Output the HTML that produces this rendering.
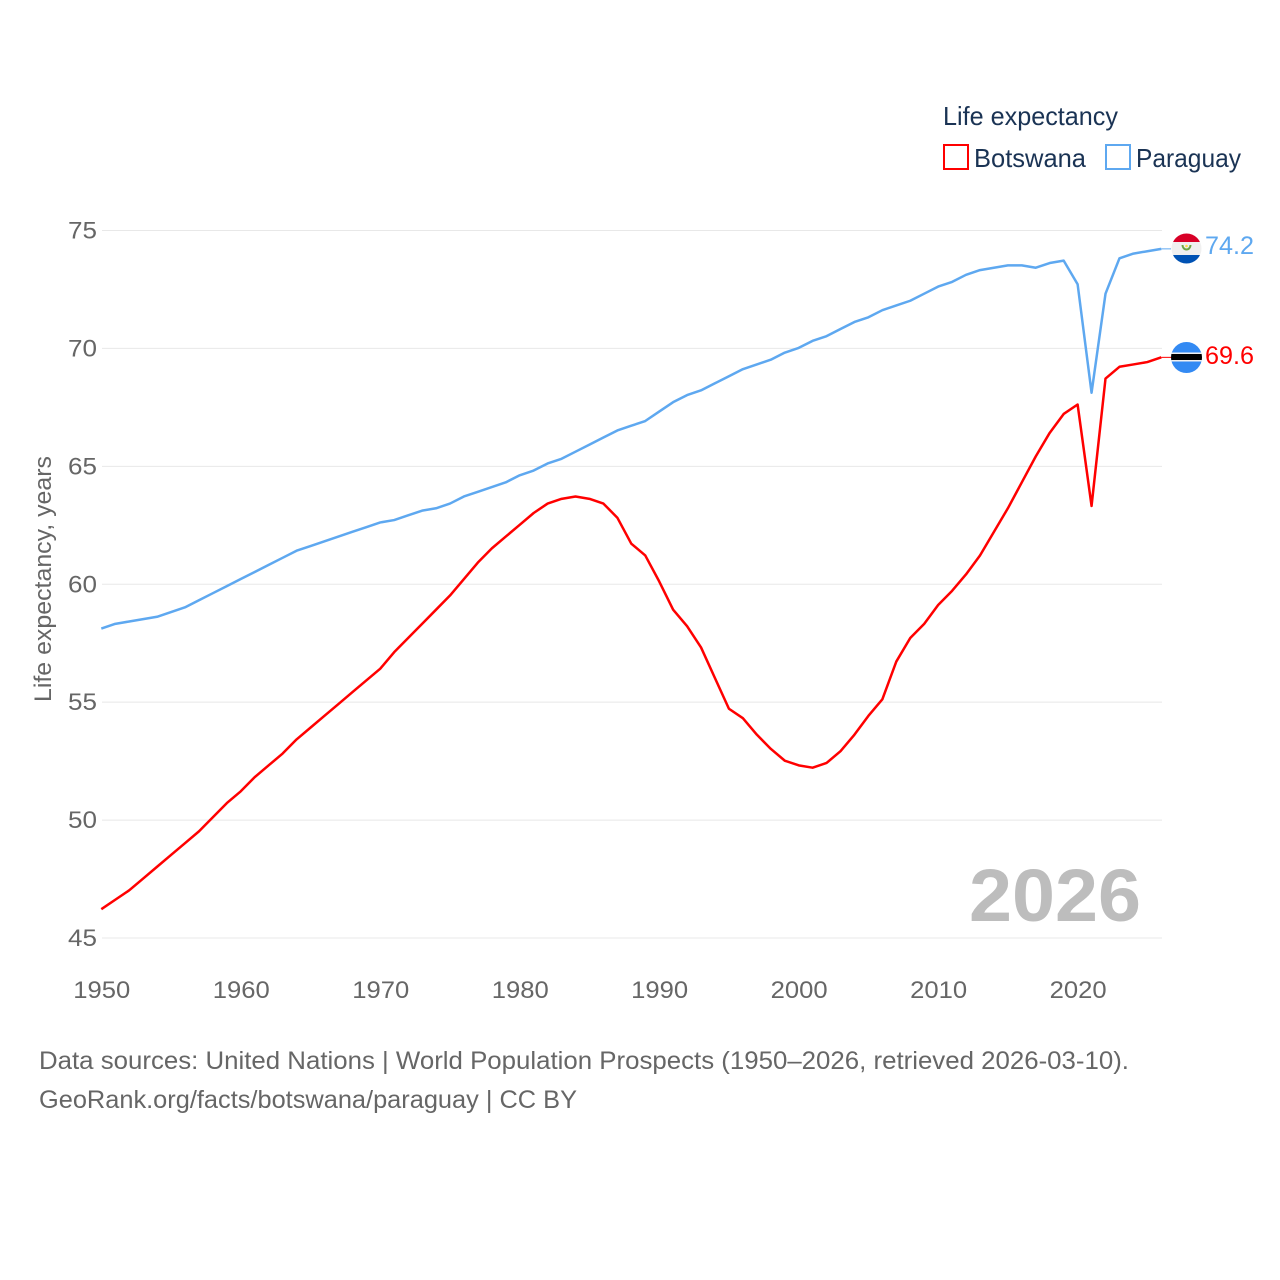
<!DOCTYPE html>
<html lang="en">
<head>
<meta charset="utf-8">
<title>Life expectancy: Botswana and Paraguay</title>
<style>
html,body{margin:0;padding:0;background:#fff;}
svg{display:block;font-family:"Liberation Sans",sans-serif;}
text{font-family:"Liberation Sans",sans-serif;}
</style>
</head>
<body>
<svg id="chart" xmlns="http://www.w3.org/2000/svg" width="1280" height="1280" viewBox="0 0 1280 1280">
  <rect x="0" y="0" width="1280" height="1280" fill="#fff"/>
  <g id="grid"></g>
  <g id="yticks"></g>
  <g id="xticks"></g>
  <text transform="translate(51,702) rotate(-90)" font-size="24" fill="#666" textLength="246" lengthAdjust="spacingAndGlyphs">Life expectancy, years</text>
  <text x="969" y="921" font-size="74" font-weight="700" fill="#bdbdbd" textLength="172" lengthAdjust="spacingAndGlyphs">2026</text>
  <g id="series"></g>

  <g>
    <text x="943" y="125" font-size="26" fill="#1a3354" textLength="175" lengthAdjust="spacingAndGlyphs">Life expectancy</text>
    <rect x="944" y="145" width="24" height="24" fill="none" stroke="#ff0000" stroke-width="2"/>
    <text x="974" y="167" font-size="26" fill="#1a3354" textLength="112" lengthAdjust="spacingAndGlyphs">Botswana</text>
    <rect x="1106" y="145" width="24" height="24" fill="none" stroke="#5ea8f0" stroke-width="2"/>
    <text x="1136" y="167" font-size="26" fill="#1a3354" textLength="105" lengthAdjust="spacingAndGlyphs">Paraguay</text>
  </g>

  <defs>
    <clipPath id="clip-py"><circle cx="1186.5" cy="248.5" r="15"/></clipPath>
    <clipPath id="clip-bw"><circle cx="1186.5" cy="357.5" r="15.5"/></clipPath>
  </defs>
  <g clip-path="url(#clip-py)">
    <rect x="1170" y="232" width="33" height="10" fill="#d80027"/>
    <rect x="1170" y="242" width="33" height="13" fill="#f0f0f0"/>
    <rect x="1170" y="255" width="33" height="10" fill="#0052b4"/>
    <path d="M1182.5 245 A4 4.5 0 1 0 1190.5 245" fill="none" stroke="#6da544" stroke-width="2"/>
    <circle cx="1186.5" cy="246" r="1.3" fill="#ffda44"/>
  </g>
  <g clip-path="url(#clip-bw)">
    <rect x="1170" y="341" width="33" height="33" fill="#338af3"/>
    <rect x="1170" y="352.5" width="33" height="9" fill="#f0f0f0"/>
    <rect x="1170" y="354" width="33" height="6" fill="#000"/>
  </g>
  <text x="1205" y="254" font-size="25" fill="#5ea8f0" textLength="49" lengthAdjust="spacingAndGlyphs">74.2</text>
  <text x="1205" y="364" font-size="25" fill="#ff0000" textLength="49" lengthAdjust="spacingAndGlyphs">69.6</text>

  <text x="39" y="1069" font-size="25" fill="#666" textLength="1090" lengthAdjust="spacingAndGlyphs">Data sources: United Nations | World Population Prospects (1950–2026, retrieved 2026-03-10).</text>
  <text x="39" y="1108" font-size="25" fill="#666" textLength="538" lengthAdjust="spacingAndGlyphs">GeoRank.org/facts/botswana/paraguay | CC BY</text>
</svg>
<script>
var firstYear = 1950;
var xTickLabels = [1950, 1960, 1970, 1980, 1990, 2000, 2010, 2020];
var yTickLabels = [45, 50, 55, 60, 65, 70, 75];
var botswana = [
  46.2, 46.6, 47.0, 47.5, 48.0, 48.5, 49.0, 49.5, 50.1, 50.7,
  51.2, 51.8, 52.3, 52.8, 53.4, 53.9, 54.4, 54.9, 55.4, 55.9,
  56.4, 57.1, 57.7, 58.3, 58.9, 59.5, 60.2, 60.9, 61.5, 62.0,
  62.5, 63.0, 63.4, 63.6, 63.7, 63.6, 63.4, 62.8, 61.7, 61.2,
  60.1, 58.9, 58.2, 57.3, 56.0, 54.7, 54.3, 53.6, 53.0, 52.5,
  52.3, 52.2, 52.4, 52.9, 53.6, 54.4, 55.1, 56.7, 57.7, 58.3,
  59.1, 59.7, 60.4, 61.2, 62.2, 63.2, 64.3, 65.4, 66.4, 67.2,
  67.6, 63.3, 68.7, 69.2, 69.3, 69.4, 69.6
];
var paraguay = [
  58.1, 58.3, 58.4, 58.5, 58.6, 58.8, 59.0, 59.3, 59.6, 59.9,
  60.2, 60.5, 60.8, 61.1, 61.4, 61.6, 61.8, 62.0, 62.2, 62.4,
  62.6, 62.7, 62.9, 63.1, 63.2, 63.4, 63.7, 63.9, 64.1, 64.3,
  64.6, 64.8, 65.1, 65.3, 65.6, 65.9, 66.2, 66.5, 66.7, 66.9,
  67.3, 67.7, 68.0, 68.2, 68.5, 68.8, 69.1, 69.3, 69.5, 69.8,
  70.0, 70.3, 70.5, 70.8, 71.1, 71.3, 71.6, 71.8, 72.0, 72.3,
  72.6, 72.8, 73.1, 73.3, 73.4, 73.5, 73.5, 73.4, 73.6, 73.7,
  72.7, 68.1, 72.3, 73.8, 74.0, 74.1, 74.2
];

var NS = 'http://www.w3.org/2000/svg';
var plotLeft = 101.3, plotRight = 1161.3, plotTop = 230, plotBottom = 937.5;
var yMin = 45, yMax = 75;
var lastYear = firstYear + botswana.length - 1;

function xScale(year) {
  return plotLeft + (year - firstYear) / (lastYear - firstYear) * (plotRight - plotLeft);
}
function yScale(v) {
  return plotBottom - (v - yMin) / (yMax - yMin) * (plotBottom - plotTop);
}

var gridG = document.getElementById('grid');
var yG = document.getElementById('yticks');
var xG = document.getElementById('xticks');
var seriesG = document.getElementById('series');

yTickLabels.forEach(function (t) {
  var line = document.createElementNS(NS, 'line');
  
  
  line.setAttribute('x1', 102);
  line.setAttribute('x2', 1162);
  line.setAttribute('y1', yScale(t) + 0.5);
  line.setAttribute('y2', yScale(t) + 0.5);
  line.setAttribute('stroke', '#e8e8e8');
  line.setAttribute('stroke-width', '1');
  gridG.appendChild(line);

  var label = document.createElementNS(NS, 'text');
  
  
  label.setAttribute('x', 97);
  label.setAttribute('y', yScale(t) + 8.5);
  label.setAttribute('text-anchor', 'end');
  label.setAttribute('font-size', '24.5');
  label.setAttribute('fill', '#666');
  label.setAttribute('textLength', '29');
  label.setAttribute('lengthAdjust', 'spacingAndGlyphs');
  label.textContent = t;
  yG.appendChild(label);
});

xTickLabels.forEach(function (t) {
  var label = document.createElementNS(NS, 'text');
  
  
  label.setAttribute('x', xScale(t) - 28);
  label.setAttribute('y', 998);
  label.setAttribute('font-size', '24.5');
  label.setAttribute('fill', '#666');
  label.setAttribute('textLength', '57');
  label.setAttribute('lengthAdjust', 'spacingAndGlyphs');
  label.textContent = t;
  xG.appendChild(label);
});

function drawSeries(values, color) {
  var d = values.map(function (v, i) {
    return (i ? 'L' : 'M') + xScale(firstYear + i).toFixed(2) + ' ' + yScale(v).toFixed(2);
  }).join(' ');
  var endY = yScale(values[values.length - 1]).toFixed(2);
  var path = document.createElementNS(NS, 'path');
  
  
  path.setAttribute('d', d);
  path.setAttribute('fill', 'none');
  path.setAttribute('stroke', color);
  path.setAttribute('stroke-width', '2.5');
  path.setAttribute('stroke-linejoin', 'round');
  seriesG.appendChild(path);

  var conn = document.createElementNS(NS, 'line');
  
  
  conn.setAttribute('x1', plotRight);
  conn.setAttribute('x2', 1171);
  conn.setAttribute('y1', endY);
  conn.setAttribute('y2', endY);
  conn.setAttribute('stroke', color);
  conn.setAttribute('stroke-width', '1');
  seriesG.appendChild(conn);
}
drawSeries(paraguay, '#5ea8f0');
drawSeries(botswana, '#ff0000');
</script>
</body>
</html>
